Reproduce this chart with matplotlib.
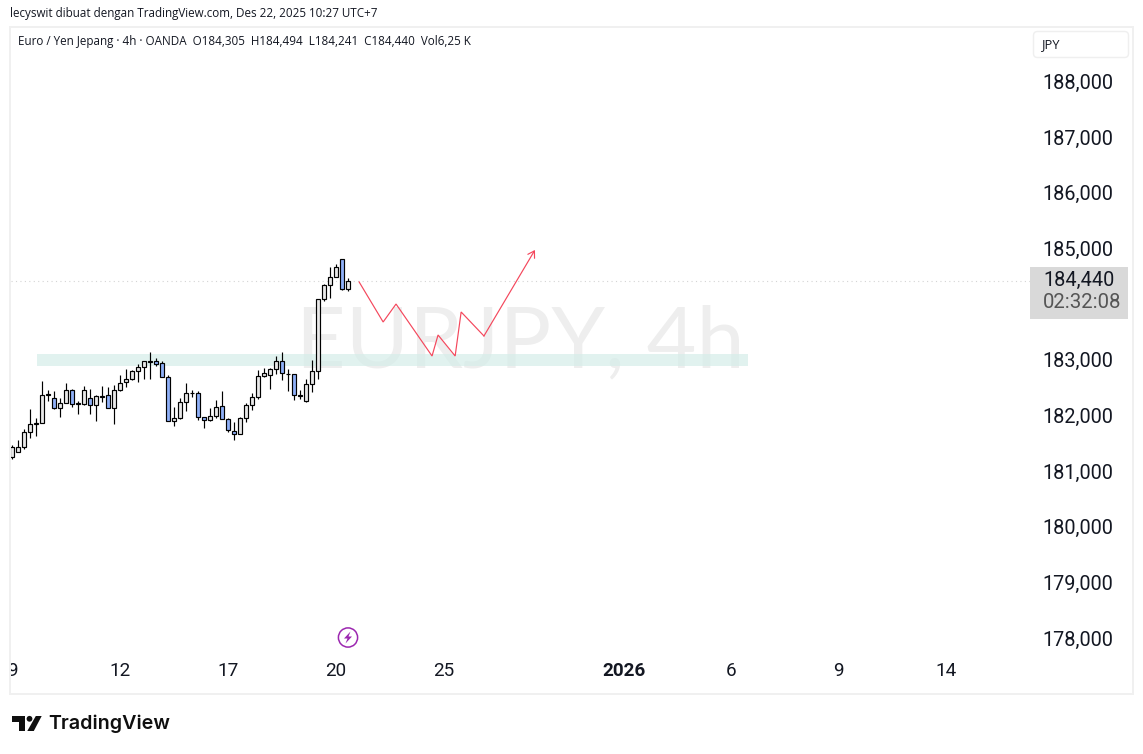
#!/usr/bin/env python3
"""EUR/JPY 4h candles with a drawn forecast path, TradingView snapshot style."""

import matplotlib
matplotlib.use("Agg")
import matplotlib.pyplot as plt
from matplotlib.patches import Circle, FancyBboxPatch, Polygon, Rectangle

W, H = 1143, 754

OPENS = [181.245, 181.335, 181.425, 181.694, 181.838, 181.856, 182.365, 182.317, 182.125, 182.215,
         182.449, 182.197, 182.197, 182.305, 182.179, 182.335, 182.359, 182.125, 182.449, 182.593,
         182.646, 182.790, 182.862, 182.964, 182.970, 182.934, 182.682, 181.892, 181.946, 182.233,
         182.395, 182.395, 181.964, 181.910, 181.982, 182.161, 181.928, 181.712, 181.658, 181.946,
         182.179, 182.323, 182.700, 182.718, 182.826, 182.970, 182.742, 182.736, 182.359, 182.251,
         182.557, 182.790, 184.083, 184.335, 184.478, 184.802, 184.262]
HIGHS = [181.461, 181.557, 181.748, 182.108, 181.946, 182.610, 182.455, 182.431, 182.305, 182.575,
         182.467, 182.251, 182.521, 182.467, 182.359, 182.521, 182.503, 182.539, 182.718, 182.832,
         182.808, 182.922, 182.970, 183.131, 183.024, 182.970, 182.718, 182.143, 182.305, 182.581,
         182.449, 182.431, 181.964, 182.125, 182.269, 182.431, 181.946, 181.874, 181.964, 182.215,
         182.395, 182.814, 182.844, 182.844, 183.066, 183.131, 182.826, 182.736, 182.455, 182.646,
         182.994, 184.083, 184.353, 184.658, 184.712, 184.802, 184.460]
LOWS = [181.209, 181.335, 181.389, 181.599, 181.634, 181.856, 182.263, 182.108, 181.976, 182.215,
        182.155, 182.030, 182.179, 182.030, 181.904, 182.245, 182.125, 181.850, 182.431, 182.503,
        182.628, 182.593, 182.652, 182.652, 182.880, 182.682, 181.892, 181.814, 181.928, 182.072,
        182.323, 181.910, 181.766, 181.892, 181.946, 181.928, 181.694, 181.551, 181.658, 181.874,
        182.090, 182.287, 182.682, 182.479, 182.736, 182.628, 182.431, 182.269, 182.287, 182.233,
        182.413, 182.646, 184.047, 184.101, 184.478, 184.245, 184.227]
CLOSES = [181.425, 181.425, 181.694, 181.838, 181.856, 182.359, 182.377, 182.125, 182.215, 182.449,
          182.197, 182.215, 182.449, 182.179, 182.341, 182.353, 182.125, 182.449, 182.575, 182.646,
          182.790, 182.862, 182.970, 182.976, 182.916, 182.682, 181.892, 181.946, 182.233, 182.395,
          182.407, 181.964, 181.910, 181.982, 182.143, 181.928, 181.730, 181.658, 181.946, 182.179,
          182.323, 182.700, 182.754, 182.826, 182.970, 182.754, 182.736, 182.359, 182.347, 182.557,
          182.790, 184.083, 184.335, 184.478, 184.658, 184.263, 184.406]

PRICE_TICKS = [178, 179, 180, 181, 182, 183, 185, 186, 187, 188]
PRICE_LABELS = ["178,000", "179,000", "180,000", "181,000", "182,000", "183,000",
                "185,000", "186,000", "187,000", "188,000"]
TIME_TICKS = [0, 18, 36, 53.85, 71.85, 102, 119.8, 137.6, 155.6]
TIME_LABELS = ["9", "12", "17", "20", "25", "2026", "6", "9", "14"]

ZONE_LOW, ZONE_HIGH = 182.886, 183.100
ZONE_START, ZONE_END = 4.1, 122.6

PATH_X = [57.8, 61.8, 63.95, 69.95, 70.95, 73.8, 74.8, 78.6, 87.1]
PATH_Y = [184.395, 183.676, 183.999, 183.065, 183.443, 183.065, 183.856, 183.425, 184.970]

UP_COLOR = "#e9e9e9"
DOWN_COLOR = "#8fb0f8"
RED = "#f4475c"
TEXT = "#131722"
FONT = "Open Sans"
plt.rcParams["font.family"] = FONT

fig = plt.figure(figsize=(W / 100, H / 100), dpi=100, facecolor="white")

# main pane, pixels 11..1033 x 28..694
ax = fig.add_axes([11 / W, 1 - 694 / H, (1033 - 11) / W, (694 - 28) / H])
ax.set_xlim(-0.217, 170.1)
ax.set_ylim(176.994, 188.957)
for s in ax.spines.values():
    s.set_visible(False)
ax.set_xticks([])
ax.yaxis.tick_right()
ax.set_yticks(PRICE_TICKS)
ax.set_yticklabels(PRICE_LABELS, fontsize=14.3, color=TEXT, family="Roboto")
ax.tick_params(axis="y", length=0, pad=6.8)

# watermark and support zone
ax.text(0.2785, 183.29, "EURJPY, 4h", transform=ax.get_yaxis_transform(), fontsize=62,
        color="#000000", alpha=0.065, ha="left", va="center", family="Lato", zorder=1)
ax.add_patch(Rectangle((ZONE_START, ZONE_LOW), ZONE_END - ZONE_START, ZONE_HIGH - ZONE_LOW,
                       facecolor="#d5ede9", alpha=0.7, edgecolor="none", zorder=2))

# last price line
ax.axhline(CLOSES[-1], color="#d4d4d4", lw=0.8, ls=(0, (1, 3)), zorder=2)

# candles
idx = list(range(len(OPENS)))
bottoms = [min(o, c) for o, c in zip(OPENS, CLOSES)]
heights = [abs(c - o) for o, c in zip(OPENS, CLOSES)]
colors = [UP_COLOR if c >= o else DOWN_COLOR for o, c in zip(OPENS, CLOSES)]
ax.vlines(idx, LOWS, HIGHS, color="black", lw=0.85, zorder=3)
ax.bar(idx, heights, bottom=bottoms, width=0.62, color=colors, edgecolor="black", linewidth=0.85, zorder=4)

# forecast path
ax.plot(PATH_X[:-1], PATH_Y[:-1], color=RED, lw=0.85, zorder=5, solid_joinstyle="miter")
ax.annotate("", xy=(PATH_X[-1], PATH_Y[-1]), xytext=(PATH_X[-2], PATH_Y[-2]),
            arrowprops=dict(arrowstyle="->,head_length=0.45,head_width=0.28", color=RED, lw=0.85,
                            shrinkA=0, shrinkB=0), zorder=5)

# time labels live inside the pane, clipped on the left like the original
trans = ax.get_xaxis_transform()
for t, lab in zip(TIME_TICKS, TIME_LABELS):
    ax.text(t, (694 - 671) / (694 - 28), lab, transform=trans, ha="center", va="center", clip_on=True,
            fontsize=13.6, color=TEXT, family="Roboto", fontweight="bold" if lab == "2026" else "normal")

# everything else in pixel coordinates
ov = fig.add_axes([0, 0, 1, 1], facecolor="none")
ov.set_xlim(0, W)
ov.set_ylim(H, 0)
ov.axis("off")

ov.add_patch(Rectangle((10, 27), 1122.5, 667, fill=False, edgecolor="#f0f0f0", lw=1.4))
ov.text(10, 14, "lecyswit dibuat dengan TradingView.com, Des 22, 2025 10:27 UTC+7",
        fontsize=8.33, color=TEXT, va="center", ha="left")
ov.text(18, 41.5, "Euro / Yen Jepang · 4h · OANDA  O184,305  H184,494  L184,241  C184,440  Vol6,25 K",
        fontsize=8.37, color=TEXT, va="center", ha="left")

ov.add_patch(FancyBboxPatch((1033.5, 31.5), 95, 26, boxstyle="round,pad=0,rounding_size=4",
                            facecolor="white", edgecolor="#efefef", lw=1))
ov.text(1042, 44.5, "JPY", fontsize=9.3, color=TEXT, va="center", ha="left")

ov.add_patch(Rectangle((1030, 267), 98, 52, facecolor="#d9d9d9", edgecolor="none"))
ov.text(1043, 280.5, "184,440", fontsize=14.3, color=TEXT, va="center", ha="left", family="Roboto")
ov.text(1043, 303, "02:32:08", fontsize=14.7, color="#555555", va="center", ha="left", family="Roboto")

# dividends/earnings flash icon
ov.add_patch(Circle((348, 637.5), 9.6, fill=False, edgecolor="#9c27b0", lw=1.1))
ov.add_patch(Polygon([(350.5, 631.5), (344, 638.5), (347.5, 638.5), (345.5, 643.5), (352, 636.5), (348.5, 636.5)],
                     closed=True, facecolor="#9c27b0", edgecolor="none"))

# logo
ov.add_patch(Polygon([(12, 716), (25, 716), (25, 731), (19, 731), (19, 722), (12, 722)], closed=True,
                     facecolor="#0f0f0f", edgecolor="none"))
ov.add_patch(Circle((29.5, 718.8), 2.9, facecolor="#0f0f0f", edgecolor="none"))
ov.add_patch(Polygon([(35.8, 716), (41.7, 716), (33.8, 731), (27.3, 731)], closed=True,
                     facecolor="#0f0f0f", edgecolor="none"))
ov.text(48.5, 724, "TradingView", fontsize=14.2, color="#0f0f0f", va="center", ha="left",
        family="Inter", fontweight="semibold")

fig.savefig("out.png", dpi=100)
plt.close(fig)
